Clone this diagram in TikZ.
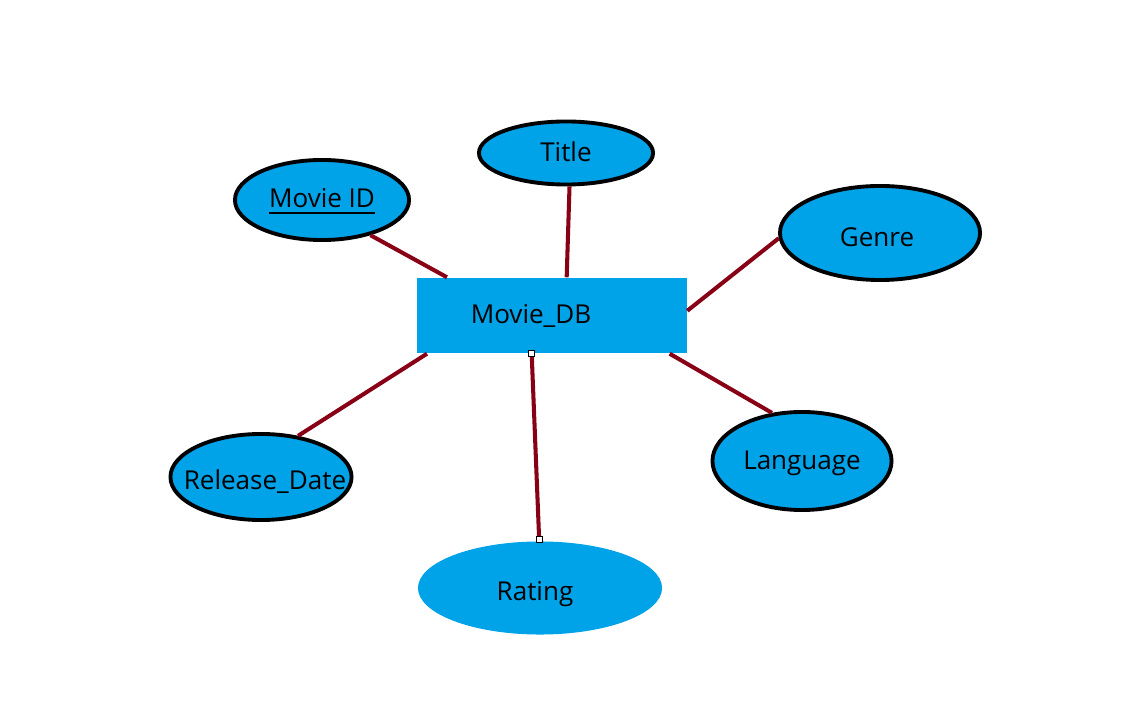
\documentclass[tikz,border=0pt]{standalone}
\usepackage{fontspec}
\setmainfont{Open Sans}
\usetikzlibrary{shapes.geometric}
\definecolor{erblue}{HTML}{00A2E8}
\definecolor{erline}{HTML}{880015}
\tikzset{
	attrstyle/.style={ellipse, draw=black, line width=1.1pt, fill=erblue, inner sep=0pt},
	entitystyle/.style={rectangle, fill=erblue, inner sep=0pt, minimum width=2.69cm, minimum height=0.75cm},
	linkstyle/.style={draw=erline, line width=1.15pt},
	handlestyle/.style={rectangle, draw=black, fill=white, line width=0.3pt, inner sep=0pt, minimum size=0.06cm},
	every label/.style={font=\fontsize{7.4}{9}\selectfont, inner sep=0pt}
}

\begin{document}
\begin{tikzpicture}[x=0.01cm, y=-0.01cm]
\useasboundingbox (0, 0) rectangle (1146, 716);

\node[entitystyle, label={[xshift=-0.21cm]center:Movie\_DB}] (db) at (552, 315.5) {};

\node[attrstyle, minimum width=1.74cm, minimum height=0.80cm, label={[yshift=-0.02cm]center:\underline{Movie ID}}] (movieid) at (322, 200) {};
\node[attrstyle, minimum width=1.74cm, minimum height=0.63cm, label={[yshift=0.01cm]center:Title}] (title) at (566, 153) {};
\node[attrstyle, minimum width=2.00cm, minimum height=0.94cm, label={[yshift=-0.04cm, xshift=-0.03cm]center:Genre}] (genre) at (880, 233) {};
\node[attrstyle, minimum width=1.79cm, minimum height=0.98cm, label={[yshift=-0.02cm]center:Language}] (language) at (802, 461) {};
\node[attrstyle, minimum width=1.81cm, minimum height=0.86cm, label={[yshift=-0.05cm, xshift=0.04cm]center:Release\_Date}] (release) at (261, 477) {};
\node[attrstyle, draw=none, minimum width=2.44cm, minimum height=0.93cm, label={[yshift=-0.06cm, xshift=-0.05cm]center:Rating}] (rating) at (540, 588) {};

\draw[linkstyle] (movieid.-36)--(db.160);
\draw[linkstyle] (title.-84)--(db.69);
\draw[linkstyle] (genre.-177)--(db.2.5);
\draw[linkstyle] (language.122)--(db.-18);
\draw[linkstyle] (release.48)--(db.-163);
\draw[linkstyle] (rating.91)--(db.-118);

\node[handlestyle] (h1) at (db.-118) {};
\node[handlestyle] (h2) at (rating.91) {};
\end{tikzpicture}
\end{document}
